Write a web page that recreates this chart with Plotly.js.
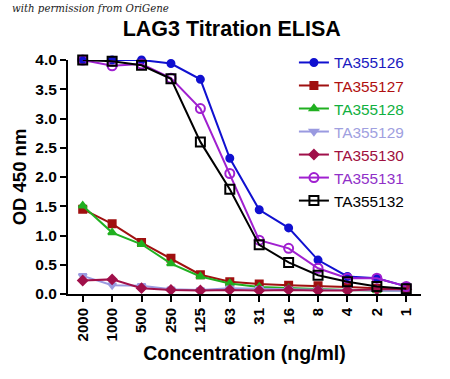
<!DOCTYPE html>
<html>
<head>
<meta charset="utf-8">
<script src="https://cdn.plot.ly/plotly-3.0.1.min.js"></script>
<style>html,body{margin:0;padding:0;background:#fff;}#chart{width:450px;height:379px;}</style>
</head>
<body>
<div id="chart"></div>
<script>
const concentrations = ["2000","1000","500","250","125","63","31","16","8","4","2","1"];
const seriesNames = ["TA355126","TA355127","TA355128","TA355129","TA355130","TA355131","TA355132"];
const TA355126 = [4.00,4.00,4.00,3.94,3.67,2.32,1.44,1.13,0.58,0.30,0.27,0.13];
const TA355127 = [1.45,1.20,0.88,0.61,0.33,0.21,0.17,0.15,0.14,0.12,0.10,0.09];
const TA355128 = [1.51,1.05,0.85,0.52,0.30,0.18,0.12,0.10,0.08,0.07,0.06,0.06];
const TA355129 = [0.31,0.15,0.14,0.08,0.07,0.10,0.09,0.08,0.07,0.07,0.06,0.05];
const TA355130 = [0.23,0.25,0.10,0.07,0.06,0.07,0.06,0.07,0.06,0.06,0.08,0.08];
const TA355131 = [4.00,3.90,3.93,3.69,3.17,2.06,0.92,0.78,0.44,0.27,0.27,0.13];
const TA355132 = [4.00,3.98,3.91,3.68,2.60,1.79,0.84,0.54,0.32,0.21,0.13,0.09];
const yTicks = [0,0.5,1,1.5,2,2.5,3,3.5,4];

const values = [TA355126,TA355127,TA355128,TA355129,TA355130,TA355131,TA355132];
const lineColors = ["#1010d0","#a01010","#20b020","#9a9ae0","#a0104a","#a020d0","#000000"];
const textColors = ["#1a1ac0","#b01010","#10b040","#a0a0e0","#a01040","#9030c8","#000000"];
const symbols = ["circle","square","triangle-up","triangle-down","diamond","circle-open","square-open"];
const sizes = [7,7,7,7,7,9,9];

const traces = values.map((v,i)=>({
  type:"scatter", mode:"lines+markers",
  x: concentrations.map((c,j)=>j), y: v,
  name: '<span style="color:'+textColors[i]+'">'+seriesNames[i]+'</span>',
  line:{color:lineColors[i], width:2},
  marker:{symbol:symbols[i], size:sizes[i], color:lineColors[i], line:{color:lineColors[i], width:2}},
  cliponaxis:false
}));

const layout = {
  width:450, height:379,
  margin:{l:68, r:29, t:60, b:85},
  paper_bgcolor:"#fff", plot_bgcolor:"#fff",
  font:{family:"Liberation Sans, Arial, sans-serif", color:"#000"},
  title:{text:"<b>LAG3 Titration ELISA</b>", x:0.515, xanchor:"center", y:0.925, yanchor:"middle", font:{size:21.5, color:"#000"}},
  xaxis:{
    range:[-0.5,11.5], tickmode:"array", tickvals:concentrations.map((c,j)=>j), ticktext:concentrations.map(c=>"<b>"+c+"</b>"),
    tickangle:-90, tickfont:{size:15}, showgrid:false, zeroline:false,
    showline:true, linecolor:"#000", linewidth:2, ticks:"outside", ticklen:6, tickwidth:2, tickcolor:"#000",
    title:{text:"<b>Concentration (ng/ml)</b>", font:{size:19.5}, standoff:6}
  },
  yaxis:{
    range:[0,4], tickmode:"array", tickvals:yTicks, ticktext:yTicks.map(t=>"<b>"+t.toFixed(1)+"</b>"),
    tickfont:{size:15.5}, showgrid:false, zeroline:false,
    showline:true, linecolor:"#000", linewidth:2, ticks:"outside", ticklen:6, tickwidth:2, tickcolor:"#000",
    title:{text:"<b>OD 450 nm</b>", font:{size:18.5}, standoff:4}
  },
  legend:{x:0.64, xanchor:"left", y:1.06, yanchor:"top", bgcolor:"rgba(0,0,0,0)", font:{size:15.4}, tracegroupgap:0, itemwidth:30},
  showlegend:true,
  annotations:[{
    text:"<i>with permission from OriGene</i>", xref:"paper", yref:"paper", x:-0.164, y:1.22, xanchor:"left", yanchor:"middle",
    showarrow:false, font:{family:"DejaVu Serif, serif", size:10.2, color:"#222"}
  }]
};
Plotly.newPlot("chart", traces, layout, {displayModeBar:false, staticPlot:true});
</script>
</body>
</html>
